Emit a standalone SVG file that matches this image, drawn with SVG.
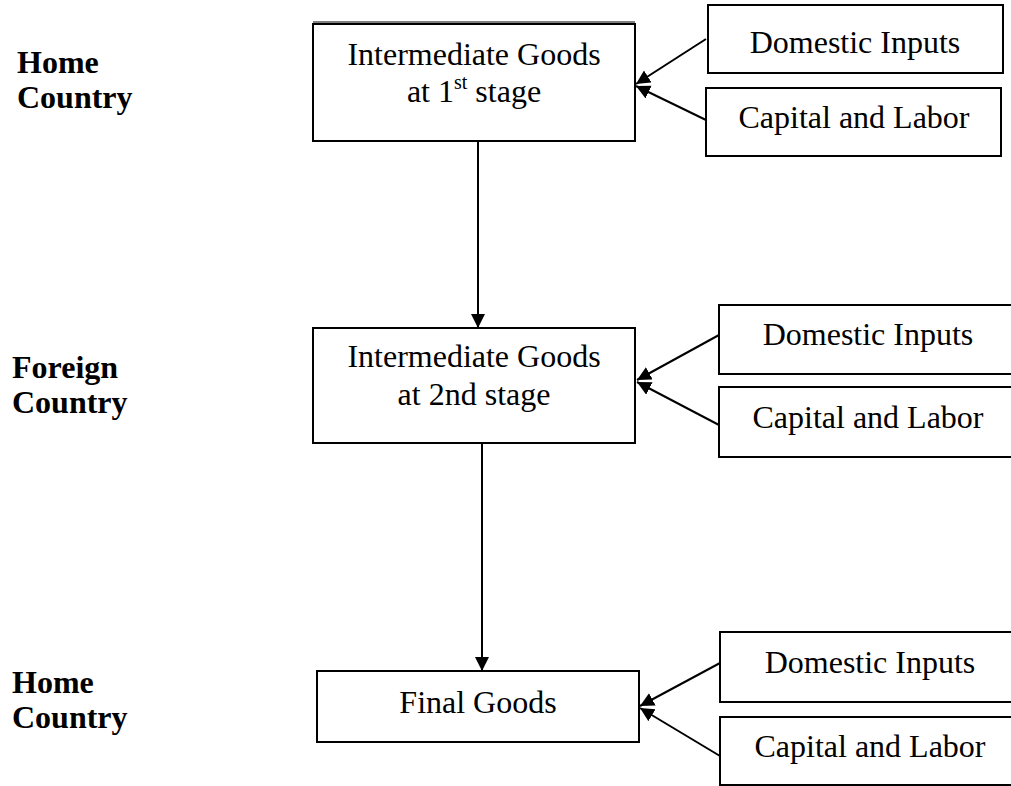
<svg xmlns="http://www.w3.org/2000/svg" width="1011" height="786" viewBox="0 0 1011 786">
<defs>
<style>
.box{fill:#fff;stroke:#000;stroke-width:2}
.t{font-family:"Liberation Serif","Times New Roman",serif;font-size:32px;fill:#000;text-anchor:middle}
.lbl{font-family:"Liberation Serif","Times New Roman",serif;font-size:32px;font-weight:bold;fill:#000}
.c{stroke:#000;stroke-width:2;fill:none}
</style>
<marker id="ah" markerUnits="userSpaceOnUse" markerWidth="16" markerHeight="16" refX="14" refY="7" orient="auto">
<path d="M0,0 L14,7 L0,14 z" fill="#000"/>
</marker>
</defs>
<rect width="1011" height="786" fill="#fff"/>

<g id="label-home1">
<text class="lbl" x="17" y="73">Home</text>
<text class="lbl" x="17" y="108">Country</text>
</g>
<g id="label-foreign">
<text class="lbl" x="12" y="378">Foreign</text>
<text class="lbl" x="12" y="413">Country</text>
</g>
<g id="label-home2">
<text class="lbl" x="12" y="693">Home</text>
<text class="lbl" x="12" y="728">Country</text>
</g>

<g id="node-stage1">
<rect class="box" x="313" y="24" width="322" height="117"/>
<line x1="313" y1="22" x2="635" y2="22" stroke="#000" stroke-width="1"/>
<text class="t" x="474" y="65">Intermediate Goods</text>
<text class="t" x="474" y="102">at 1<tspan font-size="20" dy="-13">st</tspan><tspan dy="13"> stage</tspan></text>
</g>
<g id="node-dom1">
<rect class="box" x="708" y="5" width="295" height="68"/>
<text class="t" x="855" y="53">Domestic Inputs</text>
</g>
<g id="node-cap1">
<rect class="box" x="706" y="88" width="295" height="68"/>
<text class="t" x="854" y="128">Capital and Labor</text>
</g>

<g id="node-stage2">
<rect class="box" x="313" y="328" width="322" height="115"/>
<text class="t" x="474" y="367">Intermediate Goods</text>
<text class="t" x="474" y="405">at 2nd stage</text>
</g>
<g id="node-dom2">
<rect class="box" x="719" y="305" width="300" height="69"/>
<text class="t" x="868" y="345">Domestic Inputs</text>
</g>
<g id="node-cap2">
<rect class="box" x="719" y="387" width="300" height="70"/>
<text class="t" x="868" y="428">Capital and Labor</text>
</g>

<g id="node-final">
<rect class="box" x="317" y="671" width="322" height="71"/>
<text class="t" x="478" y="713">Final Goods</text>
</g>
<g id="node-dom3">
<rect class="box" x="720" y="632" width="300" height="70"/>
<text class="t" x="870" y="673">Domestic Inputs</text>
</g>
<g id="node-cap3">
<rect class="box" x="720" y="717" width="300" height="68"/>
<text class="t" x="870" y="757">Capital and Labor</text>
</g>

<g id="connectors">
<line class="c" x1="478" y1="141" x2="478" y2="328" marker-end="url(#ah)"/>
<line class="c" x1="482" y1="443" x2="482" y2="671" marker-end="url(#ah)"/>
<line class="c" x1="706" y1="39" x2="636" y2="84" marker-end="url(#ah)"/>
<line class="c" x1="706" y1="120" x2="636" y2="86" marker-end="url(#ah)"/>
<line class="c" x1="719" y1="335" x2="637" y2="380" marker-end="url(#ah)"/>
<line class="c" x1="719" y1="425" x2="637" y2="382" marker-end="url(#ah)"/>
<line class="c" x1="720" y1="663" x2="640" y2="706" marker-end="url(#ah)"/>
<line class="c" x1="720" y1="756" x2="640" y2="708" marker-end="url(#ah)"/>
</g>
</svg>
